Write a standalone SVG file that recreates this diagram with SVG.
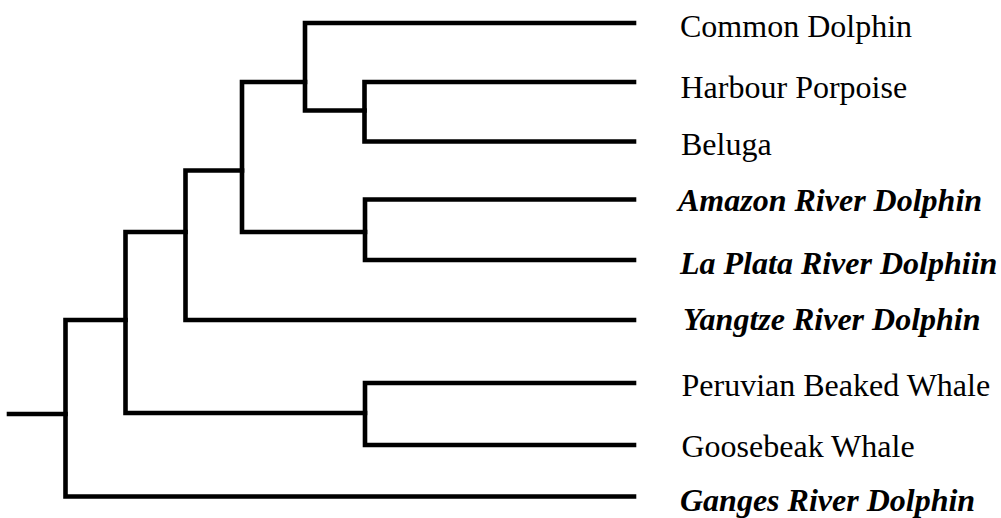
<svg xmlns="http://www.w3.org/2000/svg" width="1001" height="518" viewBox="0 0 1001 518">
<style>
.e{fill:none;stroke:#000;stroke-width:4.6;stroke-linejoin:miter;stroke-linecap:square}
.t{font-family:"Liberation Serif","Times New Roman",serif;font-size:32px;fill:#000}
.b{font-weight:bold;font-style:italic}
</style>
<rect width="1001" height="518" fill="#fff"/>
<g id="connectors">
<path class="e" d="M9,414 H65.5"/>
<path class="e" d="M125.5,320 H65.5 V496.5 H634"/>
<path class="e" d="M185.5,232 H125.5 V413 H365"/>
<path class="e" d="M634,383 H365 V445 H634"/>
<path class="e" d="M242,170.5 H185.5 V320 H634"/>
<path class="e" d="M305,82 H242 V232 H365"/>
<path class="e" d="M634,199.5 H365 V260 H634"/>
<path class="e" d="M634,23 H305 V110.5 H364.5"/>
<path class="e" d="M634,82 H364.5 V141.5 H634"/>
</g>
<g id="common-dolphin"><text class="t" x="680" y="36.5">Common Dolphin</text></g>
<g id="harbour-porpoise"><text class="t" x="680.5" y="97.5">Harbour Porpoise</text></g>
<g id="beluga"><text class="t" x="681" y="154.5">Beluga</text></g>
<g id="amazon-river-dolphin"><text class="t b" x="678" y="211">Amazon River Dolphin</text></g>
<g id="la-plata-river-dolphin"><text class="t b" x="680" y="274">La Plata River Dolphiin</text></g>
<g id="yangtze-river-dolphin"><text class="t b" x="683" y="330">Yangtze River Dolphin</text></g>
<g id="peruvian-beaked-whale"><text class="t" x="681.5" y="396">Peruvian Beaked Whale</text></g>
<g id="goosebeak-whale"><text class="t" x="681.5" y="456.5">Goosebeak Whale</text></g>
<g id="ganges-river-dolphin"><text class="t b" x="680" y="511">Ganges River Dolphin</text></g>
</svg>
